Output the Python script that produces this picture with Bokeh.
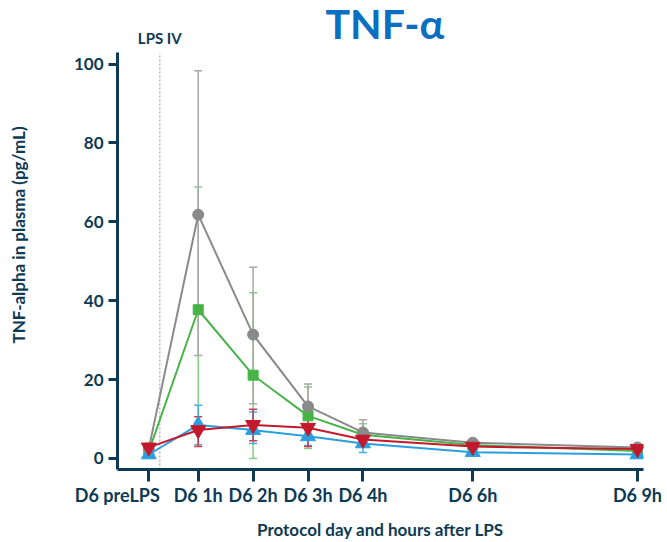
from bokeh.plotting import figure
from bokeh.models import ColumnDataSource, Whisker, TeeHead, FixedTicker, Label
from bokeh.embed import file_html
from bokeh.resources import INLINE

# Sampling times (hours after LPS) and their tick labels
hours = [0.1, 1, 2, 3, 4, 6, 9]
tick_labels = ["D6 preLPS", "D6 1h", "D6 2h", "D6 3h", "D6 4h", "D6 6h", "D6 9h"]
lps_time = 0.3

# Group means and error-bar limits (pg/mL)
gray_mean = [2.5, 61.8, 31.4, 13.2, 6.6, 4.0, 2.8]
gray_upper = [3.2, 98.3, 48.5, 18.9, 9.8, 4.8, 3.3]
gray_lower = [1.8, 26.1, 13.9, 7.5, 3.4, 3.2, 2.3]

green_mean = [1.8, 37.7, 21.1, 10.8, 6.0, 3.4, 1.9]
green_upper = [2.4, 68.8, 42.0, 18.1, 8.8, 4.1, 2.5]
green_lower = [1.2, 6.8, 0.0, 2.5, 3.4, 2.7, 1.3]

blue_mean = [1.0, 8.5, 7.2, 5.6, 3.8, 1.6, 1.0]
blue_upper = [1.4, 13.5, 11.8, 8.5, 5.5, 2.2, 1.5]
blue_lower = [0.6, 3.5, 3.8, 3.3, 1.5, 1.0, 0.5]

red_mean = [2.8, 7.2, 8.5, 7.8, 4.8, 3.0, 2.4]
red_upper = [3.8, 10.6, 12.5, 10.5, 6.0, 3.6, 3.3]
red_lower = [2.0, 3.0, 4.5, 3.0, 3.4, 2.4, 1.6]

y_ticks = [0, 20, 40, 60, 80, 100]
y_axis_bounds = (-2.8, 102.8)

FONT = "Lato"
NAVY = "#0d3a55"

p = figure(
    width=667, height=542,
    x_range=(-0.47, 9.11), y_range=(-2.8, 116.1),
    output_backend="svg", toolbar_location=None,
    min_border_left=117, min_border_right=24,
    min_border_top=0, min_border_bottom=69,
)
p.outline_line_color = None
p.grid.visible = False
p.background_fill_color = "white"
p.border_fill_color = "white"

# Axes
for ax in (p.xaxis[0], p.yaxis[0]):
    ax.axis_line_color = NAVY
    ax.axis_line_width = 3
    ax.major_tick_line_color = NAVY
    ax.major_tick_line_width = 3
    ax.minor_tick_line_color = None
    ax.major_tick_in = 0
    ax.major_label_text_font = FONT
    ax.major_label_text_font_style = "bold"
    ax.major_label_text_font_size = "17px"
    ax.major_label_text_color = NAVY
    ax.axis_label_text_font = FONT
    ax.axis_label_text_font_style = "bold"
    ax.axis_label_text_font_size = "17px"
    ax.axis_label_text_color = NAVY

# The first tick label is padded with trailing en spaces so that its visible
# text sits to the left of its tick and clears "D6 1h"
pad = "\u2002" * 7
p.xaxis.ticker = FixedTicker(ticks=hours)
p.xaxis.major_label_overrides = {
    h: (t + pad if i == 0 else t) for i, (h, t) in enumerate(zip(hours, tick_labels))
}
p.xaxis.major_label_text_font_size = "18px"
p.xaxis.major_tick_out = 12
p.xaxis.major_label_standoff = 2
p.xaxis.axis_label = "Protocol day and hours after LPS"
p.xaxis.axis_label_standoff = 10

p.yaxis.ticker = FixedTicker(ticks=y_ticks)
p.yaxis.bounds = y_axis_bounds
p.yaxis.major_tick_out = 9
p.yaxis.major_label_standoff = 5
p.yaxis.axis_label = "TNF-alpha in plasma (pg/mL)"
p.yaxis.axis_label_standoff = 42

# LPS injection marker
p.line([lps_time, lps_time], [y_axis_bounds[0], y_axis_bounds[1]],
       line_color="#b8b8b8", line_width=1.5, line_dash="2 2")
p.add_layout(Label(x=lps_time, y=106.5, text="LPS IV", text_align="center",
                   text_baseline="middle", text_font=FONT, text_font_style="bold",
                   text_font_size="15px", text_color=NAVY))

# Title
p.add_layout(Label(x=4.4, y=110.3, text="TNF-α", text_align="center",
                   text_baseline="middle", text_font=FONT, text_font_style="bold",
                   text_font_size="41px", text_color="#0a6fc0"))

series = [
    (green_mean, green_upper, green_lower, "#46b446", "#86cf86", "square", 10),
    (gray_mean, gray_upper, gray_lower, "#8a8a8a", "#a8a8a8", "circle", 11),
    (blue_mean, blue_upper, blue_lower, "#2a9fe0", "#4aaee6", "triangle", 15),
    (red_mean, red_upper, red_lower, "#c4182c", "#cf3a48", "inverted_triangle", 15),
]

for mean, up, lo, color, ecolor, marker, size in series:
    src = ColumnDataSource(dict(x=hours, y=mean, upper=up, lower=lo))
    p.add_layout(Whisker(
        source=src, base="x", upper="upper", lower="lower", dimension="height",
        line_color=ecolor, line_width=1.5,
        upper_head=TeeHead(size=8, line_color=ecolor, line_width=1.5),
        lower_head=TeeHead(size=8, line_color=ecolor, line_width=1.5),
    ))
    p.line("x", "y", source=src, line_color=color, line_width=2)
    p.scatter("x", "y", source=src, marker=marker, size=size,
              fill_color=color, line_color=color)

open("out.html", "w").write(file_html(p, INLINE))
